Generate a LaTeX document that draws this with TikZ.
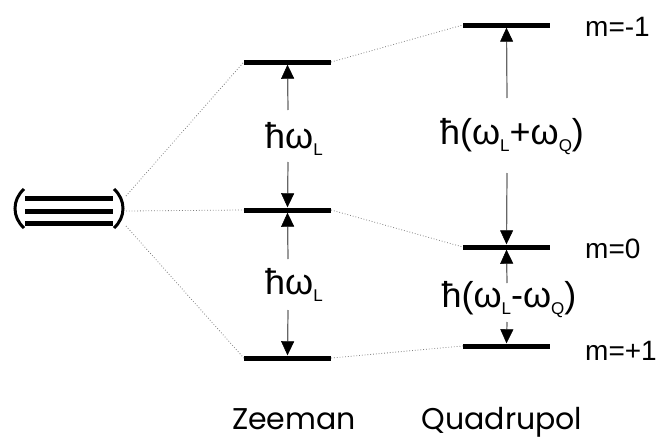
\documentclass[tikz,border=0pt]{standalone}
\usepackage{fontspec}
\setmainfont{Liberation Sans}
\newfontfamily\geofont{Poppins}
\usetikzlibrary{arrows.meta}
\newcommand{\sbs}[1]{\raisebox{-7pt}{\fontsize{17}{17}\selectfont #1}}
\begin{document}
\begin{tikzpicture}[x=1pt,y=-1pt,
  level/.style={fill=black,inner sep=0pt,minimum width=87pt,minimum height=5pt},
  deg/.style={fill=black,inner sep=0pt,minimum width=88pt,minimum height=5pt},
  conn/.style={gray,dotted,line width=0.8pt},
  arr/.style={draw=gray!80!black,line width=1.2pt,-{Triangle[width=13pt,length=14pt,color=black,fill=black,line width=0.5pt]}},
  lbl/.style={font=\fontsize{36}{40}\selectfont,inner sep=0pt,anchor=base},
  mlbl/.style={font=\fontsize{28}{32}\selectfont,inner sep=0pt,anchor=base west},
  captext/.style={font=\geofont\fontsize{30}{34}\selectfont,inner sep=0pt,anchor=base}]
\useasboundingbox (0,0) rectangle (661,439);
% degenerate levels
\node[deg] (d1) at (69,198) {};
\node[deg] (d2) at (69,211) {};
\node[deg] (d3) at (69,223) {};
\draw[line width=3pt] (24,189) .. controls (12,200) and (12,217) .. (24,228);
\draw[line width=3pt] (114,189) .. controls (126,200) and (126,217) .. (114,228);
\coordinate (p1) at (126,196);
\coordinate (p2) at (126,211);
\coordinate (p3) at (126,226);
% Zeeman levels
\node[level] (z1) at (287.5,62) {};
\node[level] (z2) at (287.5,210) {};
\node[level] (z3) at (287.5,358) {};
% Quadrupole levels
\node[level] (q1) at (506.5,25) {};
\node[level] (q2) at (506.5,247) {};
\node[level] (q3) at (506.5,346) {};
% dotted connectors
\draw[conn] (p1) -- (z1.west);
\draw[conn] (p2) -- (z2.west);
\draw[conn] (p3) -- (z3.west);
\draw[conn] (z1.east) -- (q1.west);
\draw[conn] (z2.east) -- (q2.west);
\draw[conn] (z3.east) -- (q3.west);
% labels
\node[lbl] (lz1) at (294,148) {ħω\sbs{L}};
\node[lbl] (lz2) at (294,294) {ħω\sbs{L}};
\node[lbl] (lq1) at (512,144) {ħ(ω\sbs{L}+ω\sbs{Q})};
\node[lbl] (lq2) at (509,307) {ħ(ω\sbs{L}-ω\sbs{Q})};
% arrow tails
\coordinate (a1) at (288,110);
\coordinate (a2) at (288,162);
\coordinate (a3) at (288,259);
\coordinate (a4) at (288,310);
\coordinate (b1) at (507,98);
\coordinate (b2) at (507,173);
\coordinate (b3) at (507,283);
\coordinate (b4) at (507,322);
\draw[arr] (a1) -- (z1.south);
\draw[arr] (a2) -- (z2.north);
\draw[arr] (a3) -- (z2.south);
\draw[arr] (a4) -- (z3.north);
\draw[arr] (b1) -- (q1.south);
\draw[arr] (b2) -- (q2.north);
\draw[arr] (b3) -- (q2.south);
\draw[arr] (b4) -- (q3.north);
% m labels
\node[mlbl] (m1) at (585,36) {m=-1};
\node[mlbl] (m2) at (585,258) {m=0};
\node[mlbl] (m3) at (585,360) {m=+1};
% captions
\node[captext] (cz) at (294,429) {Zeeman};
\node[captext] (cq) at (502,429) {Quadrupol};
\end{tikzpicture}
\end{document}
